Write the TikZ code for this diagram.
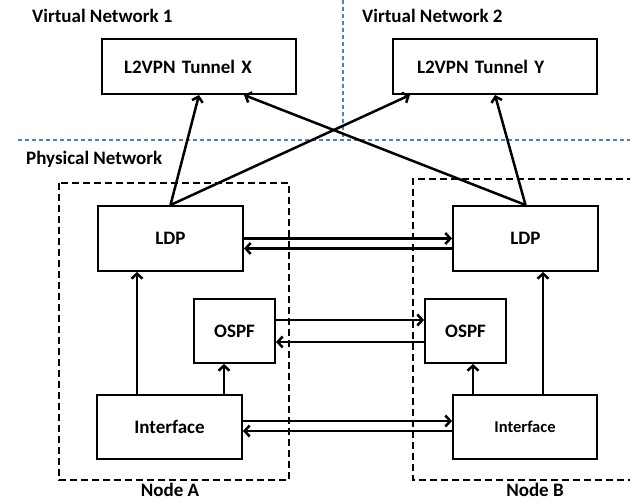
\documentclass[tikz,border=0pt]{standalone}
\usepackage{fontspec}
\setmainfont{Carlito}
\usetikzlibrary{arrows.meta}
\definecolor{sepblue}{RGB}{79,129,189}
\begin{document}
\begin{tikzpicture}[x=1pt,y=-1pt,
  font=\bfseries\fontsize{19}{22}\selectfont,
  box/.style={draw,line width=2pt,inner sep=0pt},
  arr/.style={line width=2.5pt,-{Straight Barb[length=5pt,width=11pt,line width=2.5pt]}},
  region/.style={draw,line width=2pt,dash pattern=on 7pt off 4pt},
  sep/.style={draw=sepblue,line width=1.2pt,dash pattern=on 4pt off 3pt},
  title/.style={anchor=base west,inner sep=0pt}]
\useasboundingbox (0,0) rectangle (630,502);

% separators between the virtual and physical layers
\draw[sep] (18,140) -- (630,140);
\draw[sep] (343,0) -- (343,138);

% layer titles
\node[title] (vn1) at (32,23) {Virtual Network 1};
\node[title] (vn2) at (362,23) {Virtual Network 2};
\node[title] (pn) at (26,165) {Physical Network};

% node enclosures
\draw[region] (59,183) rectangle (289,480);
\draw[region] (634,179) -- (413,179) -- (413,480) -- (634,480);
\node[anchor=base,inner sep=0pt] (na) at (170,497) {Node A};
\node[anchor=base,inner sep=0pt] (nb) at (535,497) {Node B};

% tunnels
\node[box,text width=150pt,inner xsep=22pt,align=left,minimum height=55pt,anchor=north west] (tunX) at (101,38) {L2VPN Tunnel X};
\node[box,text width=156pt,inner xsep=24pt,align=left,minimum height=55pt,anchor=north west] (tunY) at (392,38) {L2VPN Tunnel Y};

% protocol blocks
\node[box,minimum width=145pt,minimum height=65pt,anchor=north west] (ldpA) at (97,205) {LDP};
\node[box,minimum width=145pt,minimum height=65pt,anchor=north west] (ldpB) at (452,205) {LDP};
\node[box,minimum width=81pt,minimum height=64pt,anchor=north west] (ospfA) at (193,298) {OSPF};
\node[box,minimum width=81pt,minimum height=64pt,anchor=north west] (ospfB) at (424,298) {OSPF};
\node[box,minimum width=145pt,minimum height=64pt,anchor=north west] (ifA) at (96,394) {Interface};
\node[box,minimum width=144pt,minimum height=64pt,anchor=north west,font=\bfseries\fontsize{16.5}{19}\selectfont] (ifB) at (452,394) {Interface};

% LDP to tunnels
\draw[arr] (ldpA.north) -- (tunX.south);
\draw[arr] (ldpA.north) -- ([xshift=18pt]tunY.south west);
\draw[arr] (ldpB.north) -- (tunY.south);
\draw[arr] (ldpB.north) -- ([xshift=45pt]tunX.south);

% peer exchanges
\draw[arr] (ldpA.east) -- (ldpB.west);
\draw[arr] ([yshift=-10pt]ldpB.west) -- ([yshift=-10pt]ldpA.east);
\draw[arr] ([yshift=11pt]ospfA.east) -- ([yshift=11pt]ospfB.west);
\draw[arr] ([yshift=-11pt]ospfB.west) -- ([yshift=-11pt]ospfA.east);
\draw[arr] ([yshift=6pt]ifA.east) -- ([yshift=6pt]ifB.west);
\draw[arr] ([yshift=-4pt]ifB.west) -- ([yshift=-4pt]ifA.east);

% interface feeds inside each node
\coordinate (upA1) at ([xshift=41pt]ifA.north west);
\coordinate (upA2) at ([xshift=128pt]ifA.north west);
\coordinate (upB1) at ([xshift=21pt]ifB.north west);
\coordinate (upB2) at ([xshift=91pt]ifB.north west);
\draw[arr] (upA1) -- (upA1 |- ldpA.south);
\draw[arr] (upA2) -- (upA2 |- ospfA.south);
\draw[arr] (upB1) -- (upB1 |- ospfB.south);
\draw[arr] (upB2) -- (upB2 |- ldpB.south);
\end{tikzpicture}
\end{document}
